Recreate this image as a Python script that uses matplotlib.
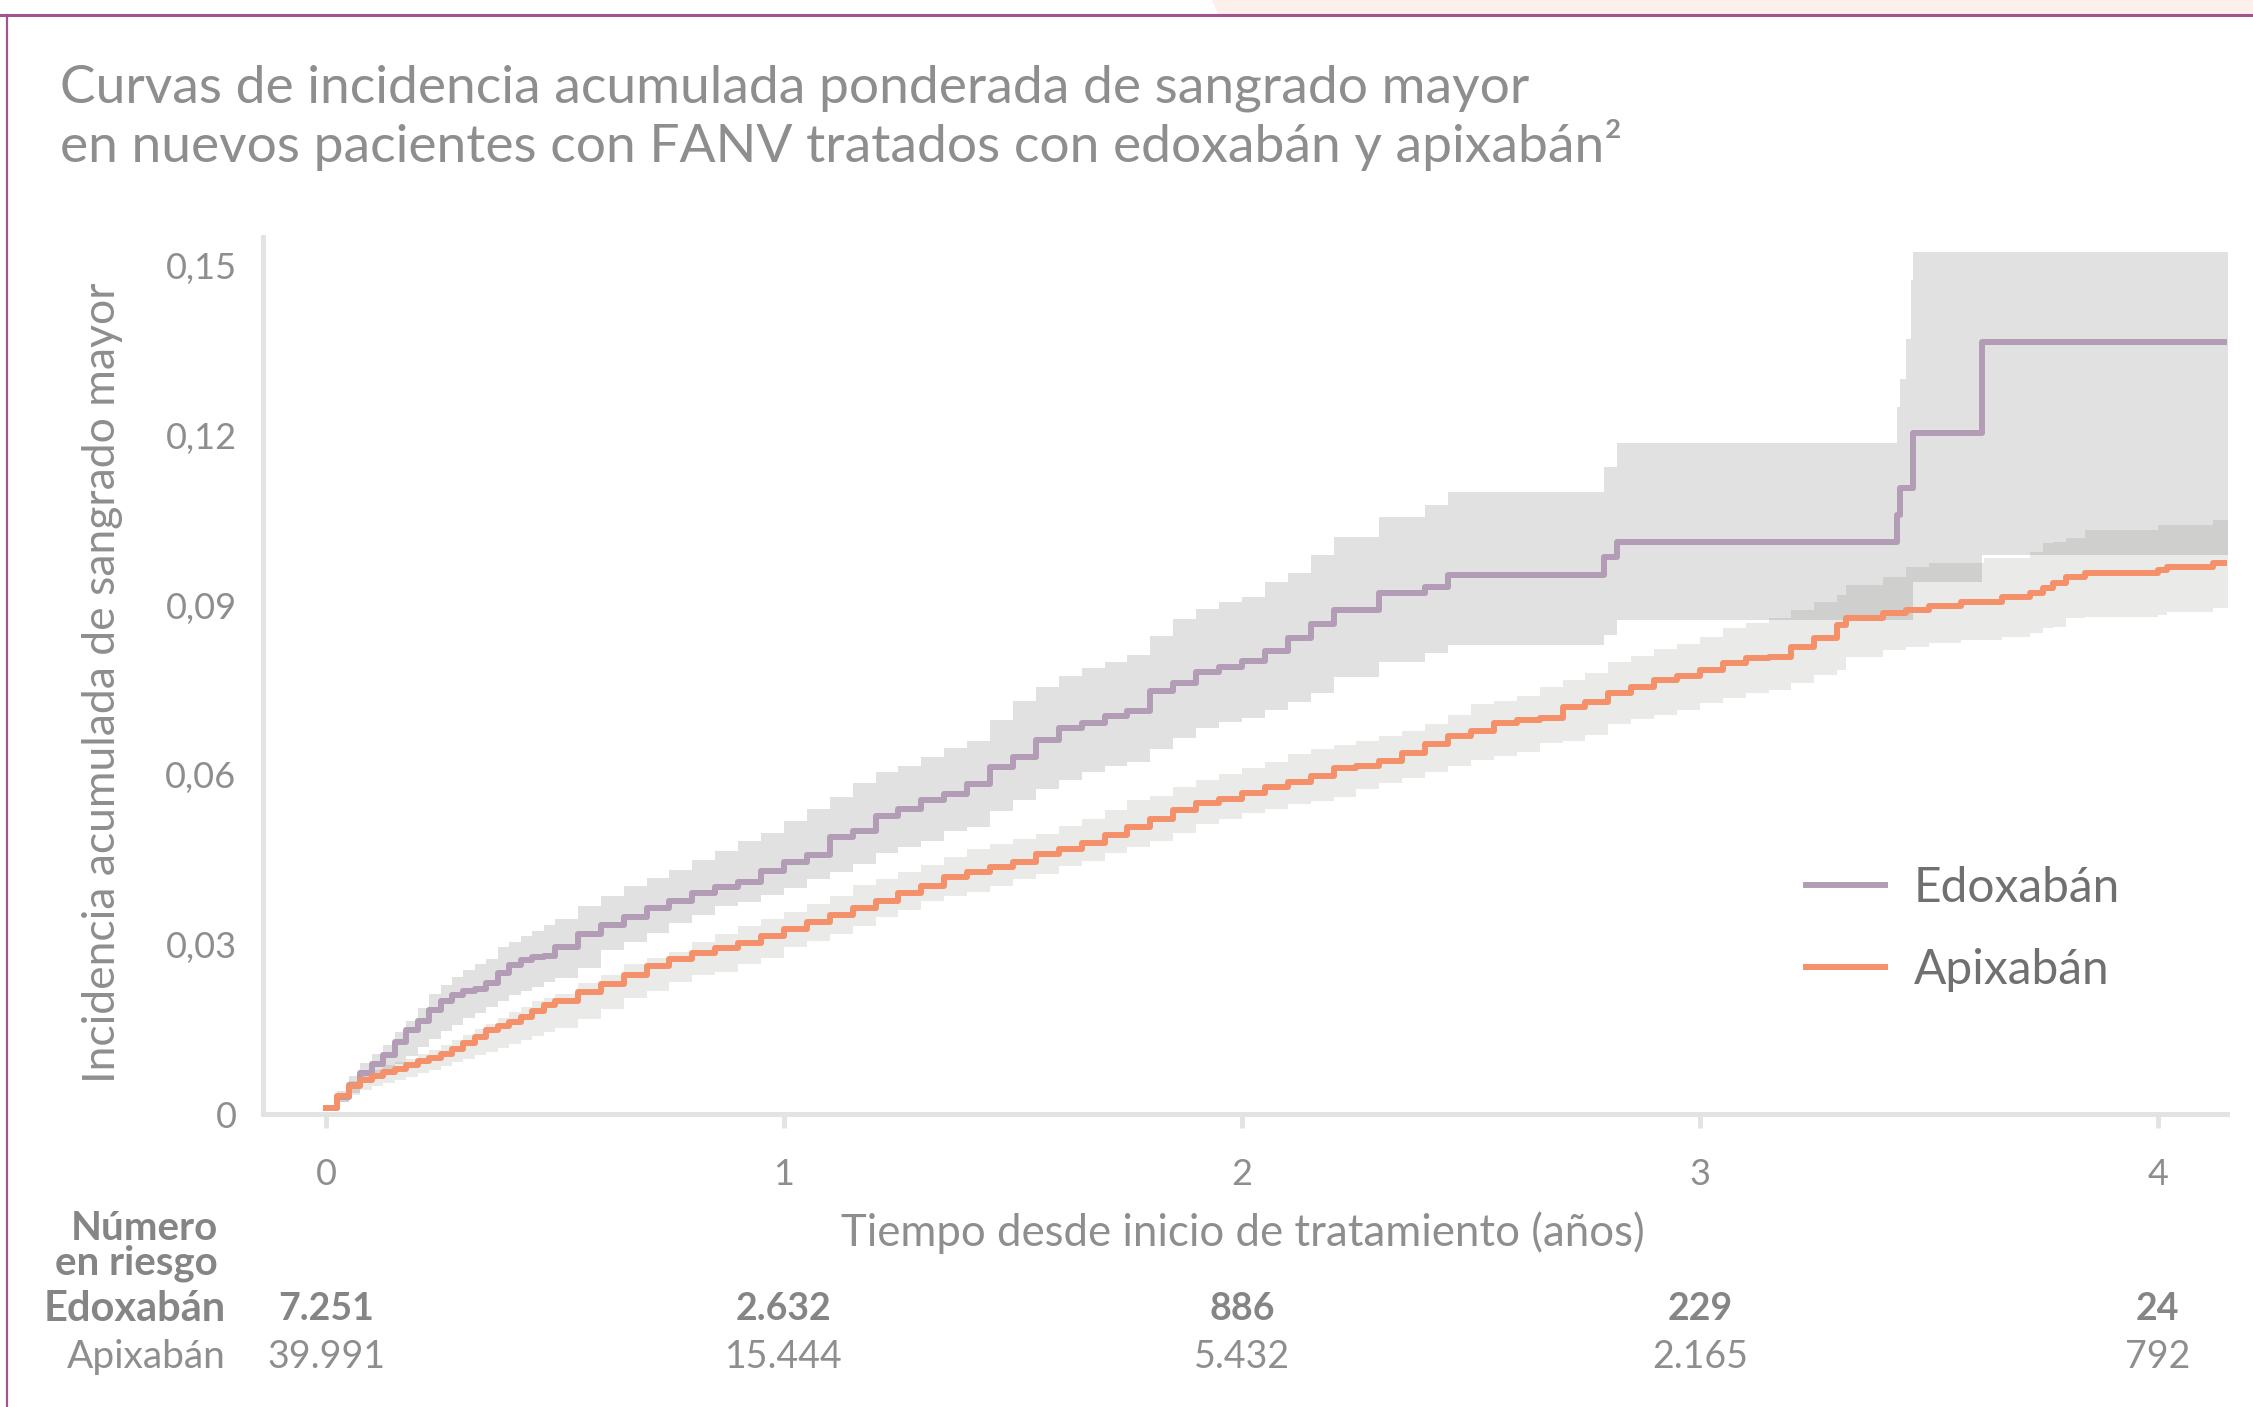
import numpy as np
import matplotlib
matplotlib.use('Agg')
import matplotlib.pyplot as plt
import matplotlib.transforms as mtransforms
from matplotlib.lines import Line2D
from matplotlib.patches import Polygon

plt.rcParams['font.family'] = ['Lato', 'DejaVu Sans']

# --- data --------------------------------------------------------------
edox_t = [0.000, 0.025, 0.050, 0.075, 0.100, 0.125, 0.150, 0.175, 0.200, 0.225,
          0.250, 0.275, 0.300, 0.325, 0.350, 0.375, 0.400, 0.425, 0.450, 0.475,
          0.500, 0.550, 0.600, 0.650, 0.700, 0.750, 0.800, 0.850, 0.900, 0.950,
          1.000, 1.050, 1.100, 1.150, 1.200, 1.250, 1.300, 1.350, 1.400, 1.450,
          1.500, 1.550, 1.600, 1.650, 1.700, 1.750, 1.800, 1.850, 1.900, 1.950,
          2.000, 2.050, 2.100, 2.150, 2.200, 2.300, 2.400, 2.450, 2.790, 2.820,
          3.430, 3.437, 3.450, 3.460, 3.466, 3.615, 4.160]
edox_est = [0.0010, 0.0030, 0.0052, 0.0072, 0.0089, 0.0104, 0.0127, 0.0148, 0.0165, 0.0184,
            0.0200, 0.0210, 0.0217, 0.0221, 0.0232, 0.0250, 0.0263, 0.0272, 0.0277, 0.0280,
            0.0296, 0.0318, 0.0334, 0.0349, 0.0364, 0.0377, 0.0390, 0.0402, 0.0410, 0.0430,
            0.0446, 0.0458, 0.0490, 0.0500, 0.0527, 0.0540, 0.0555, 0.0566, 0.0584, 0.0614,
            0.0632, 0.0662, 0.0683, 0.0692, 0.0703, 0.0712, 0.0748, 0.0762, 0.0782, 0.0790,
            0.0802, 0.0818, 0.0842, 0.0866, 0.0892, 0.0922, 0.0932, 0.0953, 0.0985, 0.1012,
            0.1060, 0.1107, 0.1107, 0.1107, 0.1205, 0.1366, 0.1366]
edox_lo = [0.0010, 0.0022, 0.0038, 0.0054, 0.0063, 0.0072, 0.0089, 0.0103, 0.0118, 0.0133,
           0.0147, 0.0158, 0.0169, 0.0178, 0.0190, 0.0199, 0.0210, 0.0217, 0.0225, 0.0233,
           0.0240, 0.0258, 0.0290, 0.0305, 0.0320, 0.0338, 0.0352, 0.0368, 0.0375, 0.0388,
           0.0400, 0.0415, 0.0428, 0.0442, 0.0462, 0.0472, 0.0482, 0.0500, 0.0508, 0.0535,
           0.0555, 0.0575, 0.0590, 0.0605, 0.0615, 0.0622, 0.0645, 0.0665, 0.0682, 0.0693,
           0.0700, 0.0715, 0.0728, 0.0745, 0.0773, 0.0800, 0.0815, 0.0830, 0.0847, 0.0874,
           0.0874, 0.0874, 0.0874, 0.0874, 0.0940, 0.0989, 0.0989]
edox_hi = [0.0010, 0.0040, 0.0068, 0.0090, 0.0106, 0.0122, 0.0145, 0.0165, 0.0188, 0.0212,
           0.0228, 0.0242, 0.0255, 0.0265, 0.0275, 0.0295, 0.0305, 0.0315, 0.0323, 0.0335,
           0.0345, 0.0367, 0.0385, 0.0403, 0.0418, 0.0432, 0.0450, 0.0465, 0.0483, 0.0497,
           0.0518, 0.0540, 0.0560, 0.0585, 0.0605, 0.0615, 0.0632, 0.0648, 0.0660, 0.0697,
           0.0730, 0.0755, 0.0775, 0.0788, 0.0800, 0.0812, 0.0845, 0.0876, 0.0893, 0.0905,
           0.0915, 0.0940, 0.0957, 0.0989, 0.1021, 0.1056, 0.1077, 0.1100, 0.1145, 0.1187,
           0.1250, 0.1300, 0.1370, 0.1475, 0.1525, 0.1525, 0.1525]

apix_t = [0.000, 0.025, 0.050, 0.075, 0.100, 0.125, 0.150, 0.175, 0.200, 0.225,
          0.250, 0.275, 0.300, 0.325, 0.350, 0.375, 0.400, 0.425, 0.450, 0.475,
          0.500, 0.550, 0.600, 0.650, 0.700, 0.750, 0.800, 0.850, 0.900, 0.950,
          1.00, 1.05, 1.10, 1.15, 1.20, 1.25, 1.30, 1.35, 1.40, 1.45,
          1.50, 1.55, 1.60, 1.65, 1.70, 1.75, 1.80, 1.85, 1.90, 1.95,
          2.00, 2.05, 2.10, 2.15, 2.20, 2.25, 2.30, 2.35, 2.40, 2.45,
          2.50, 2.55, 2.60, 2.65, 2.70, 2.75, 2.80, 2.85, 2.90, 2.95,
          3.00, 3.05, 3.10, 3.15, 3.20, 3.25, 3.30, 3.32, 3.40, 3.45,
          3.50, 3.57, 3.62, 3.66, 3.72, 3.75, 3.77, 3.80, 3.84, 4.00,
          4.02, 4.12, 4.16]
apix_est = [0.0010, 0.0032, 0.0050, 0.0060, 0.0067, 0.0074, 0.0080, 0.0087, 0.0093, 0.0099,
            0.0106, 0.0115, 0.0125, 0.0137, 0.0148, 0.0156, 0.0163, 0.0172, 0.0182, 0.0192,
            0.0200, 0.0215, 0.0230, 0.0246, 0.0261, 0.0275, 0.0284, 0.0293, 0.0303, 0.0314,
            0.0327, 0.0340, 0.0352, 0.0364, 0.0376, 0.0391, 0.0403, 0.0419, 0.0428, 0.0436,
            0.0446, 0.0460, 0.0468, 0.0480, 0.0493, 0.0508, 0.0522, 0.0538, 0.0550, 0.0557,
            0.0568, 0.0578, 0.0587, 0.0597, 0.0612, 0.0616, 0.0624, 0.0639, 0.0655, 0.0668,
            0.0677, 0.0692, 0.0696, 0.0700, 0.0720, 0.0728, 0.0745, 0.0755, 0.0768, 0.0775,
            0.0785, 0.0798, 0.0807, 0.0808, 0.0826, 0.0842, 0.0865, 0.0877, 0.0886, 0.0892,
            0.0899, 0.0906, 0.0906, 0.0915, 0.0922, 0.0930, 0.0939, 0.0950, 0.0957, 0.0962,
            0.0968, 0.0975, 0.0975]
apix_lo = [0.0010, 0.0022, 0.0034, 0.0043, 0.0050, 0.0055, 0.0060, 0.0066, 0.0072, 0.0078,
           0.0085, 0.0092, 0.0098, 0.0104, 0.0110, 0.0117, 0.0123, 0.0130, 0.0138, 0.0145,
           0.0152, 0.0168, 0.0185, 0.0205, 0.0218, 0.0234, 0.0245, 0.0252, 0.0266, 0.0276,
           0.0295, 0.0306, 0.0318, 0.0333, 0.0348, 0.0360, 0.0376, 0.0385, 0.0392, 0.0403,
           0.0415, 0.0425, 0.0438, 0.0447, 0.0462, 0.0472, 0.0483, 0.0497, 0.0512, 0.0522,
           0.0532, 0.0540, 0.0548, 0.0553, 0.0560, 0.0575, 0.0585, 0.0595, 0.0605, 0.0615,
           0.0626, 0.0633, 0.0640, 0.0656, 0.0660, 0.0670, 0.0690, 0.0698, 0.0705, 0.0715,
           0.0727, 0.0736, 0.0745, 0.0750, 0.0762, 0.0777, 0.0785, 0.0808, 0.0820, 0.0826,
           0.0833, 0.0838, 0.0838, 0.0844, 0.0851, 0.0860, 0.0861, 0.0877, 0.0879, 0.0883,
           0.0888, 0.0895, 0.0895]
apix_hi = [0.0010, 0.0038, 0.0058, 0.0068, 0.0078, 0.0086, 0.0092, 0.0098, 0.0106, 0.0114,
           0.0122, 0.0131, 0.0140, 0.0150, 0.0160, 0.0170, 0.0181, 0.0190, 0.0199, 0.0206,
           0.0213, 0.0232, 0.0245, 0.0265, 0.0276, 0.0287, 0.0305, 0.0318, 0.0333, 0.0345,
           0.0358, 0.0372, 0.0385, 0.0405, 0.0415, 0.0428, 0.0440, 0.0455, 0.0468, 0.0478,
           0.0487, 0.0496, 0.0510, 0.0522, 0.0538, 0.0555, 0.0563, 0.0578, 0.0590, 0.0601,
           0.0612, 0.0622, 0.0636, 0.0645, 0.0653, 0.0660, 0.0668, 0.0678, 0.0690, 0.0705,
           0.0725, 0.0730, 0.0740, 0.0755, 0.0768, 0.0780, 0.0800, 0.0810, 0.0822, 0.0832,
           0.0844, 0.0860, 0.0869, 0.0877, 0.0891, 0.0906, 0.0918, 0.0935, 0.0950, 0.0968,
           0.0975, 0.0975, 0.0984, 0.0984, 0.0994, 0.1010, 0.1012, 0.1019, 0.1033, 0.1042,
           0.1042, 0.1051, 0.1051]

y_ticks = [0, 0.03, 0.06, 0.09, 0.12, 0.15]
y_ticklabels = ['0', '0,03', '0,06', '0,09', '0,12', '0,15']
x_ticks = [0, 1, 2, 3, 4]

risk_years = [0, 1, 2, 3, 4]
risk_edox = ['7.251', '2.632', '886', '229', '24']
risk_apix = ['39.991', '15.444', '5.432', '2.165', '792']

# --- colours -----------------------------------------------------------
c_edox = '#b39cb5'
c_apix = '#f5916a'
c_band_e = '#e1e1e1'
c_band_a = '#eaeae8'
c_band_both = '#cfcfcd'
c_axis = '#e3e3e3'
c_text = '#8e8e8e'
c_frame = '#9e5590'

W, H = 2253, 1407
fig = plt.figure(figsize=(W / 100, H / 100), dpi=100)


def fx(px):
    return px / W


def fy(py):
    return 1 - py / H


# decorative frame of the page
fig.patches.append(Polygon([[fx(1212), fy(0)], [1, fy(0)], [1, fy(14)], [fx(1218), fy(14)]],
                           closed=True, transform=fig.transFigure, facecolor='#fdefea',
                           edgecolor='none', zorder=0))
fig.lines.append(Line2D([0, 1], [fy(15), fy(15)], transform=fig.transFigure, color=c_frame, lw=2.2))
fig.lines.append(Line2D([fx(7), fx(7)], [fy(15), 0], transform=fig.transFigure, color=c_frame, lw=1.6))

ax = fig.add_axes([fx(263), fy(1114), fx(2227) - fx(263), fy(237) - fy(1114)])

# confidence bands
ax.fill_between(apix_t, apix_lo, apix_hi, step='post', color=c_band_a, lw=0, zorder=1)
ax.fill_between(edox_t, edox_lo, edox_hi, step='post', color=c_band_e, lw=0, zorder=2)


def step_at(t_src, v_src, t_new):
    idx = np.searchsorted(t_src, t_new, side='right') - 1
    return np.asarray(v_src)[idx]


# where both bands overlap the grey is darker
grid = np.union1d(edox_t, apix_t)
ov_lo = np.maximum(step_at(edox_t, edox_lo, grid), step_at(apix_t, apix_lo, grid))
ov_hi = np.minimum(step_at(edox_t, edox_hi, grid), step_at(apix_t, apix_hi, grid))
ov_hi = np.maximum(ov_hi, ov_lo)
ax.fill_between(grid, ov_lo, ov_hi, step='post', color=c_band_both, lw=0, zorder=3)

ax.step(edox_t, edox_est, where='post', color=c_edox, lw=4.3, label='Edoxabán', zorder=4)
ax.step(apix_t, apix_est, where='post', color=c_apix, lw=4.3, label='Apixabán', zorder=5)

ax.set_xlim(-0.1376, 4.151)
ax.set_ylim(0, 0.1551)

for s in ['top', 'right']:
    ax.spines[s].set_visible(False)
for s in ['left', 'bottom']:
    ax.spines[s].set_color(c_axis)
    ax.spines[s].set_linewidth(3.6)
    ax.spines[s].set_zorder(0)

ax.set_xticks(x_ticks)
ax.set_xticklabels([str(v) for v in x_ticks])
ax.set_yticks(y_ticks)
ax.set_yticklabels(y_ticklabels)
ax.tick_params(axis='x', length=10, width=3.6, color=c_axis, pad=22,
               labelsize=26, labelcolor=c_text)
ax.tick_params(axis='y', length=0, pad=19, labelsize=26, labelcolor=c_text)

leg = ax.legend(loc='center left', bbox_to_anchor=(fx(1806), fy(929)),
                bbox_transform=fig.transFigure, frameon=False, fontsize=34.5,
                handlelength=1.65, handletextpad=0.6, labelspacing=0.8,
                borderpad=0, borderaxespad=0)
for txt in leg.get_texts():
    txt.set_color('#707070')

# titles and axis labels
fig.text(fx(60), fy(103), 'Curvas de incidencia acumulada ponderada de sangrado mayor',
         fontsize=38.4, color=c_text, va='baseline')
fig.text(fx(60), fy(162), 'en nuevos pacientes con FANV tratados con edoxabán y apixabán²',
         fontsize=38.4, color=c_text, va='baseline')
fig.text(fx(103), fy(683), 'Incidencia acumulada de sangrado mayor', rotation=90,
         fontsize=32, color=c_text, ha='center', va='center')
fig.text(fx(1243), fy(1233), 'Tiempo desde inicio de tratamiento (años)',
         fontsize=31.5, color=c_text, ha='center', va='center')

# number at risk table
fig.text(fx(218), fy(1229), 'Número', fontsize=29, color='#858585', fontweight='bold',
         ha='right', va='center')
fig.text(fx(218), fy(1263), 'en riesgo', fontsize=29, color='#858585', fontweight='bold',
         ha='right', va='center')
fig.text(fx(226), fy(1309), 'Edoxabán', fontsize=30, color='#858585', fontweight='bold',
         ha='right', va='center')
fig.text(fx(226), fy(1357), 'Apixabán', fontsize=28, color=c_text,
         ha='right', va='center')

tr = mtransforms.blended_transform_factory(ax.transData, fig.transFigure)
for yr, ne, na in zip(risk_years, risk_edox, risk_apix):
    ax.text(yr, fy(1309), ne, transform=tr, fontsize=27, color='#858585', fontweight='bold',
            ha='center', va='center', clip_on=False)
    ax.text(yr, fy(1357), na, transform=tr, fontsize=27, color=c_text,
            ha='center', va='center', clip_on=False)

fig.savefig('out.png', dpi=100)
